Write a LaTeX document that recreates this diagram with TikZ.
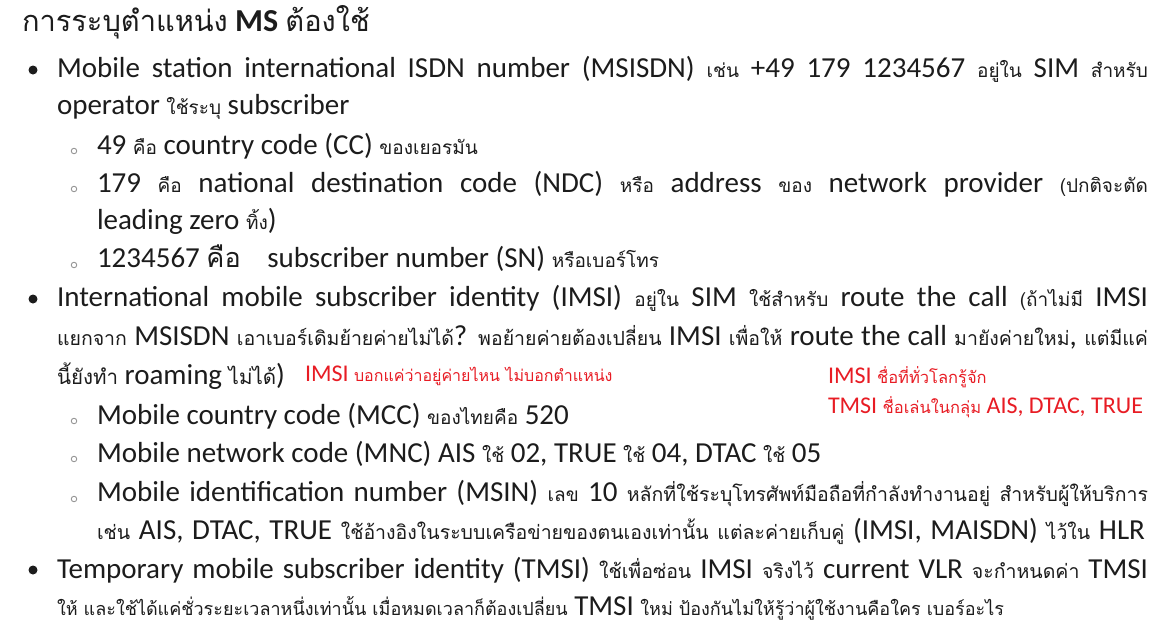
\documentclass[tikz,border=0pt]{standalone}
\usepackage{fontspec}
\setmainfont{Carlito}
\newfontfamily\thaifont[Script=Thai]{Loma}
\definecolor{txt}{RGB}{28,28,28}
\definecolor{redt}{RGB}{232,28,36}
\definecolor{subb}{RGB}{150,150,150}
\newcommand\tz[2]{{\thaifont\fontsize{#1}{#1}\selectfont #2}}
\newcommand\tS[1]{\tz{19}{#1}}
\newcommand\tM[1]{\tz{19.5}{#1}}
\newcommand\jline[2]{\hbox to #1{#2}}
\tikzset{
  ln/.style={anchor=base west, inner sep=0pt, outer sep=0pt, text=txt, font=\fontsize{29}{32}\selectfont},
  rd/.style={anchor=base west, inner sep=0pt, outer sep=0pt, text=redt, font=\fontsize{24}{27}\selectfont},
  bul/.style={circle, fill=txt, inner sep=0pt, minimum size=9pt},
  sbul/.style={circle, draw=subb, line width=0.9pt, inner sep=0pt, minimum size=5.5pt}
}
\begin{document}
\begin{tikzpicture}[x=1pt,y=-1pt]
\useasboundingbox (0,0) rectangle (1166,638);
\fill[white] (0,0) rectangle (1166,638);
% title
\node[ln, font=\fontsize{32}{35}\selectfont] (title) at (22,31) {\tz{29}{การระบุตำแหน่ง} \textbf{MS} \tz{29}{ต้องใช้}};
% MSISDN
\node[bul] (b1) at (33,70) {};
\node[ln] (l1) at (57,77) {\jline{1091pt}{Mobile station international ISDN number (MSISDN) \tS{เช่น} +49 179 1234567 \tS{อยู่ใน} SIM \tS{สำหรับ}}};
\node[ln] (l2) at (57,114) {operator \tS{ใช้ระบุ} subscriber};
\node[sbul] (s1) at (74,151) {};
\node[ln] (l3) at (97,154) {49 \tS{คือ} country code (CC) \tS{ของเยอรมัน}};
\node[sbul] (s2) at (74,189) {};
\node[ln] (l4) at (97,192) {\jline{1051pt}{179 \tS{คือ} national destination code (NDC) \tS{หรือ} address \tS{ของ} network provider \tS{(ปกติจะตัด}}};
\node[ln] (l5) at (97,229) {leading zero \tS{ทิ้ง})};
\node[sbul] (s3) at (74,265) {};
\node[ln] (l6) at (97,267) {1234567 \tz{27}{คือ}\hspace{20pt} subscriber number (SN) \tS{หรือเบอร์โทร}};
% IMSI
\node[bul] (b2) at (33,299) {};
\node[ln] (l7) at (57,306) {\jline{1091pt}{International mobile subscriber identity (IMSI) \tS{อยู่ใน} SIM \tS{ใช้สำหรับ} route the call \tS{(ถ้าไม่มี} IMSI}};
\node[ln] (l8) at (57,345) {\jline{1091pt}{\tM{แยกจาก} MSISDN \tM{เอาเบอร์เดิมย้ายค่ายไม่ได้}? \tM{พอย้ายค่ายต้องเปลี่ยน} IMSI \tM{เพื่อให้} route the call \tM{มายังค่ายใหม่}, \tM{แต่มีแค่}}};
\node[ln] (l9) at (57,384) {\tz{20.5}{นี้ยังทำ} roaming \tz{20.5}{ไม่ได้})};
\node[rd] (r1) at (305,381) {IMSI \tz{16}{บอกแค่ว่าอยู่ค่ายไหน ไม่บอกตำแหน่ง}};
\node[rd] (r2) at (828,383) {IMSI \tz{16.5}{ชื่อที่ทั่วโลกรู้จัก}};
\node[rd] (r3) at (828,413) {TMSI \tz{16.5}{ชื่อเล่นในกลุ่ม} AIS, DTAC, TRUE};
\node[sbul] (s4) at (74,421) {};
\node[ln] (l10) at (97,424) {Mobile country code (MCC) \tS{ของไทยคือ} 520};
\node[sbul] (s5) at (74,459) {};
\node[ln] (l11) at (97,462) {Mobile network code (MNC) AIS \tS{ใช้} 02, TRUE \tS{ใช้} 04, DTAC \tS{ใช้} 05};
\node[sbul] (s6) at (74,499) {};
\node[ln] (l12) at (97,501) {\jline{1051pt}{Mobile identification number (MSIN) \tS{เลข} 10 \tM{หลักที่ใช้ระบุโทรศัพท์มือถือที่กำลังทำงานอยู่ สำหรับผู้ให้บริการ}}};
\node[ln] (l13) at (97,539) {\jline{1048pt}{\tM{เช่น} AIS, DTAC, TRUE \tM{ใช้อ้างอิงในระบบเครือข่ายของตนเองเท่านั้น แต่ละค่ายเก็บคู่} (IMSI, MAISDN) \tM{ไว้ใน} HLR}};
% TMSI
\node[bul] (b3) at (33,570) {};
\node[ln] (l14) at (57,578) {\jline{1091pt}{Temporary mobile subscriber identity (TMSI) \tM{ใช้เพื่อซ่อน} IMSI \tM{จริงไว้} current VLR \tM{จะกำหนดค่า} TMSI}};
\node[ln] (l15) at (57,615) {\tz{18}{ให้ และใช้ได้แค่ชั่วระยะเวลาหนึ่งเท่านั้น เมื่อหมดเวลาก็ต้องเปลี่ยน} TMSI \tz{18}{ใหม่ ป้องกันไม่ให้รู้ว่าผู้ใช้งานคือใคร เบอร์อะไร}};
\end{tikzpicture}
\end{document}
